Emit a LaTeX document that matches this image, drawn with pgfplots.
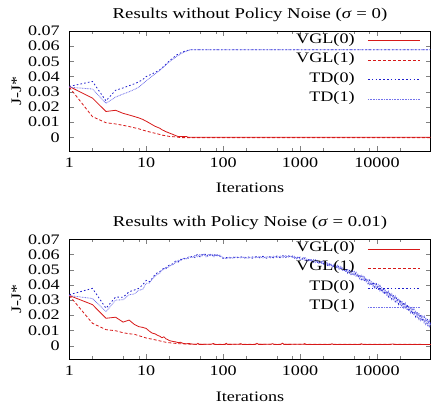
\documentclass[border=0pt]{standalone}
\usepackage{fontspec}
\setmainfont{Liberation Serif}[FakeStretch=1.25]
\usepackage{pgfplots}
\usepackage{pgfplotstable}
\pgfplotsset{compat=1.18}
\definecolor{vglred}{RGB}{215,25,25}
\definecolor{tdblue}{RGB}{30,30,205}
\definecolor{tdlight}{RGB}{115,115,235}

\pgfplotstableread{
x a b
1 0.0335 0.0330
2 0.0377 0.0310
3 0.0246 0.0224
4 0.0320 0.0300
5 0.0318 0.0302
6 0.0355 0.0335
7 0.0366 0.0340
8 0.0377 0.0365
9 0.0400 0.0370
10 0.0430 0.0410
11 0.0420 0.0412
12 0.0443 0.0440
13 0.0468 0.0455
14 0.0480 0.0470
15 0.0487 0.0478
16 0.0500 0.0495
17 0.0510 0.0503
18 0.0506 0.0518
19 0.0522 0.0512
20 0.0530 0.0524
22 0.0538 0.0532
24 0.0556 0.0546
26 0.0550 0.0562
28 0.0568 0.0558
30 0.0565 0.0575
33 0.0580 0.0570
36 0.0575 0.0585
40 0.0590 0.0580
43 0.0580 0.0595
46 0.0600 0.0585
50 0.0585 0.0600
53 0.0600 0.0590
56 0.0590 0.0605
60 0.0605 0.0585
64 0.0585 0.0600
68 0.0600 0.0590
72 0.0590 0.0600
76 0.0605 0.0585
80 0.0585 0.0600
85 0.0600 0.0590
90 0.0590 0.0598
95 0.0580 0.0585
100 0.0575 0.0580
110 0.0580 0.0572
120 0.0575 0.0582
135 0.0583 0.0576
150 0.0578 0.0584
170 0.0585 0.0577
190 0.0577 0.0583
210 0.0584 0.0575
240 0.0576 0.0585
270 0.0586 0.0578
300 0.0578 0.0587
330 0.0588 0.0577
370 0.0575 0.0586
410 0.0587 0.0578
450 0.0578 0.0589
500 0.0590 0.0579
550 0.0579 0.0591
600 0.0592 0.0580
650 0.0580 0.0593
700 0.0594 0.0582
750 0.0582 0.0592
800 0.0590 0.0578
850 0.0576 0.0588
900 0.0588 0.0572
950 0.0570 0.0585
1000 0.0583 0.0568
1050 0.0581 0.0567
1100 0.0564 0.0579
1160 0.0578 0.0561
1220 0.0558 0.0573
1280 0.0571 0.0555
1350 0.0553 0.0570
1420 0.0568 0.0553
1500 0.0550 0.0566
1580 0.0564 0.0547
1660 0.0545 0.0561
1750 0.0559 0.0542
1840 0.0539 0.0555
1940 0.0555 0.0538
2040 0.0536 0.0553
2150 0.0551 0.0532
2260 0.0528 0.0547
2380 0.0544 0.0524
2500 0.0521 0.0540
2630 0.0537 0.0518
2770 0.0515 0.0535
2910 0.0533 0.0512
3060 0.0507 0.0529
3220 0.0526 0.0503
3390 0.0498 0.0521
3570 0.0517 0.0493
3750 0.0488 0.0511
3950 0.0509 0.0484
4150 0.0479 0.0504
4370 0.0499 0.0474
4600 0.0469 0.0494
4840 0.0491 0.0466
5090 0.0461 0.0487
5360 0.0481 0.0454
5640 0.0448 0.0475
5930 0.0469 0.0441
6240 0.0435 0.0462
6570 0.0456 0.0429
6910 0.0422 0.0451
7270 0.0445 0.0416
7650 0.0408 0.0437
8050 0.0431 0.0402
8470 0.0395 0.0425
8910 0.0420 0.0389
9380 0.0382 0.0413
9870 0.0406 0.0375
10390 0.0368 0.0400
10930 0.0394 0.0361
11500 0.0353 0.0386
12100 0.0378 0.0344
12730 0.0337 0.0370
13400 0.0362 0.0329
14100 0.0322 0.0357
14830 0.0349 0.0314
15610 0.0306 0.0341
16420 0.0333 0.0298
17280 0.0290 0.0326
18180 0.0318 0.0282
19130 0.0273 0.0310
20130 0.0303 0.0266
21180 0.0257 0.0294
22290 0.0286 0.0249
23450 0.0242 0.0279
24670 0.0271 0.0233
25960 0.0225 0.0263
27320 0.0255 0.0217
28740 0.0208 0.0247
30240 0.0239 0.0200
31820 0.0191 0.0230
33480 0.0222 0.0183
35230 0.0175 0.0215
37070 0.0207 0.0167
39010 0.0159 0.0199
41040 0.0191 0.0151
43190 0.0143 0.0183
45440 0.0175 0.0135
47810 0.0127 0.0167
50000 0.0155 0.0128
}\botTD

\pgfplotsset{
  vglA/.style={color=vglred, line width=0.8pt, solid},
  vglB/.style={color=vglred, line width=0.8pt, dash pattern=on 3pt off 2pt},
  tdA/.style={color=tdblue, line width=0.8pt, dash pattern=on 1.6pt off 2.2pt},
  tdB/.style={color=tdlight, line width=0.8pt, dash pattern=on 0.8pt off 0.8pt},
}

\newcommand{\gplegendtext}{%
  \node[anchor=base east, inner sep=0pt, yshift=-2.5pt] at (rel axis cs:0.79,0.919) {VGL(0)};
  \node[anchor=base east, inner sep=0pt, yshift=-2.5pt] at (rel axis cs:0.79,0.757) {VGL(1)};
  \node[anchor=base east, inner sep=0pt, yshift=-2.5pt] at (rel axis cs:0.79,0.594) {TD(0)};
  \node[anchor=base east, inner sep=0pt, yshift=-2.5pt] at (rel axis cs:0.79,0.432) {TD(1)};
}

\begin{document}
\begin{tikzpicture}[font=\fontsize{14.5}{17}\selectfont]
\begin{axis}[
    scale only axis, width=361.4pt, height=120pt,
    xmode=log, xmin=1, xmax=50000, ymin=-0.009, ymax=0.07,
    xtick={1,10,100,1000,10000}, xticklabels={1,10,100,1000,10000},
    minor xtick={2,5,8,20,50,80,200,500,800,2000,5000,8000,20000},
    ytick={0,0.01,0.02,0.03,0.04,0.05,0.06,0.07},
    yticklabels={0,0.01,0.02,0.03,0.04,0.05,0.06,0.07},
    scaled y ticks=false,
    tick align=inside, tick pos=both,
    major tick length=5pt, minor tick length=3pt,
    axis line style={line width=0.8pt},
    xticklabel style={yshift=-3pt},
    yticklabel style={xshift=-6pt},
    xlabel={Iterations}, ylabel={J-J*},
    xlabel style={yshift=-9pt},
    title style={font=\fontsize{15}{18}\selectfont},
    title={Results without Policy Noise (\textit{σ} = 0)}]
\addplot[vglA] table {
1 0.0335
2 0.0258
3 0.0170
4 0.0178
5 0.0158
6 0.0147
7 0.0137
8 0.0128
9 0.0118
10 0.0106
11 0.0094
12 0.0083
13 0.0073
14 0.0066
15 0.0060
16 0.0050
17 0.0044
18 0.0037
19 0.0033
20 0.0028
22 0.0020
24 0.0012
26 0.0005
28 0.0006
30 0.0006
33 0.0006
35 0.0001
36 0.0000
50000 0.0000
};
\addplot[vglB] table {
1 0.0330
2 0.0136
3 0.0096
4 0.0088
5 0.0079
6 0.0071
7 0.0063
8 0.0056
9 0.0048
10 0.0041
12 0.0031
14 0.0023
16 0.0015
18 0.0010
20 0.0006
25 0.0002
28 -0.0002
50000 -0.0002
};
\addplot[tdA] table {
1 0.0335
2 0.0368
3 0.0240
4 0.0310
5 0.0325
6 0.0340
7 0.0352
8 0.0365
9 0.0380
10 0.0400
12 0.0418
15 0.0444
18 0.0480
20 0.0503
25 0.0543
30 0.0563
35 0.0573
37 0.0576
50000 0.0576
};
\addplot[tdB] table {
1 0.0330
2 0.0318
3 0.0224
4 0.0265
5 0.0285
6 0.0300
7 0.0315
8 0.0330
10 0.0372
12 0.0404
15 0.0440
20 0.0498
25 0.0533
30 0.0558
37 0.0576
50000 0.0576
};
\addplot[vglA] coordinates {(7650,0.0636) (36300,0.0636)};
\addplot[vglB] coordinates {(7650,0.0508) (36300,0.0508)};
\addplot[tdA] coordinates {(7650,0.0379) (36300,0.0379)};
\addplot[tdB] coordinates {(7650,0.0251) (36300,0.0251)};
\gplegendtext
\coordinate (tl) at (rel axis cs:0,1);
\end{axis}

\begin{axis}[
    at={(0,-208.3pt)},
    scale only axis, width=361.4pt, height=120pt,
    xmode=log, xmin=1, xmax=50000, ymin=-0.009, ymax=0.07,
    xtick={1,10,100,1000,10000}, xticklabels={1,10,100,1000,10000},
    minor xtick={2,5,8,20,50,80,200,500,800,2000,5000,8000,20000},
    ytick={0,0.01,0.02,0.03,0.04,0.05,0.06,0.07},
    yticklabels={0,0.01,0.02,0.03,0.04,0.05,0.06,0.07},
    scaled y ticks=false,
    tick align=inside, tick pos=both,
    major tick length=5pt, minor tick length=3pt,
    axis line style={line width=0.8pt},
    xticklabel style={yshift=-3pt},
    yticklabel style={xshift=-6pt},
    xlabel={Iterations}, ylabel={J-J*},
    xlabel style={yshift=-9pt},
    title style={font=\fontsize{15}{18}\selectfont},
    title={Results with Policy Noise (\textit{σ} = 0.01)}]
\addplot[vglA] table {
1 0.0330
2 0.0270
3 0.0180
4 0.0187
5 0.0155
6 0.0168
7 0.0140
8 0.0125
9 0.0120
10 0.0113
11 0.0095
12 0.0082
13 0.0078
14 0.0068
15 0.0062
16 0.0052
17 0.0058
18 0.0045
19 0.0040
20 0.0033
22 0.0028
24 0.0025
26 0.0020
28 0.0022
30 0.0015
33 0.0012
36 0.0014
40 0.0010
45 0.0008
47 0.0015
49 0.0008
70 0.0009
75 0.0014
78 0.0008
105 0.0008
110 0.0015
114 0.0008
160 0.0009
170 0.0013
178 0.0008
260 0.0008
275 0.0015
290 0.0008
420 0.0009
440 0.0013
460 0.0008
560 0.0008
590 0.0016
620 0.0008
1100 0.0009
1150 0.0013
1200 0.0008
2500 0.0008
2600 0.0012
2700 0.0008
6000 0.0008
6300 0.0012
6600 0.0008
15000 0.0008
16000 0.0011
17000 0.0008
50000 0.0008
};
\addplot[vglB] table {
1 0.0330
2 0.0147
3 0.0105
4 0.0098
5 0.0085
6 0.0078
7 0.0075
8 0.0065
9 0.0058
10 0.0050
12 0.0042
14 0.0035
16 0.0028
18 0.0022
20 0.0019
25 0.0014
30 0.0011
40 0.0009
50000 0.0008
};
\addplot[tdA] table[x=x, y=a] {\botTD};
\addplot[tdB] table[x=x, y=b] {\botTD};
\addplot[vglA] coordinates {(7650,0.0636) (36300,0.0636)};
\addplot[vglB] coordinates {(7650,0.0508) (36300,0.0508)};
\addplot[tdA] coordinates {(7650,0.0379) (36300,0.0379)};
\addplot[tdB] coordinates {(7650,0.0251) (36300,0.0251)};
\gplegendtext
\coordinate (br) at (rel axis cs:1,0);
\end{axis}
\pgfresetboundingbox
\path ([shift={(-69.3pt,31pt)}]tl) rectangle ([shift={(5.3pt,-46.7pt)}]br);
\end{tikzpicture}
\end{document}
